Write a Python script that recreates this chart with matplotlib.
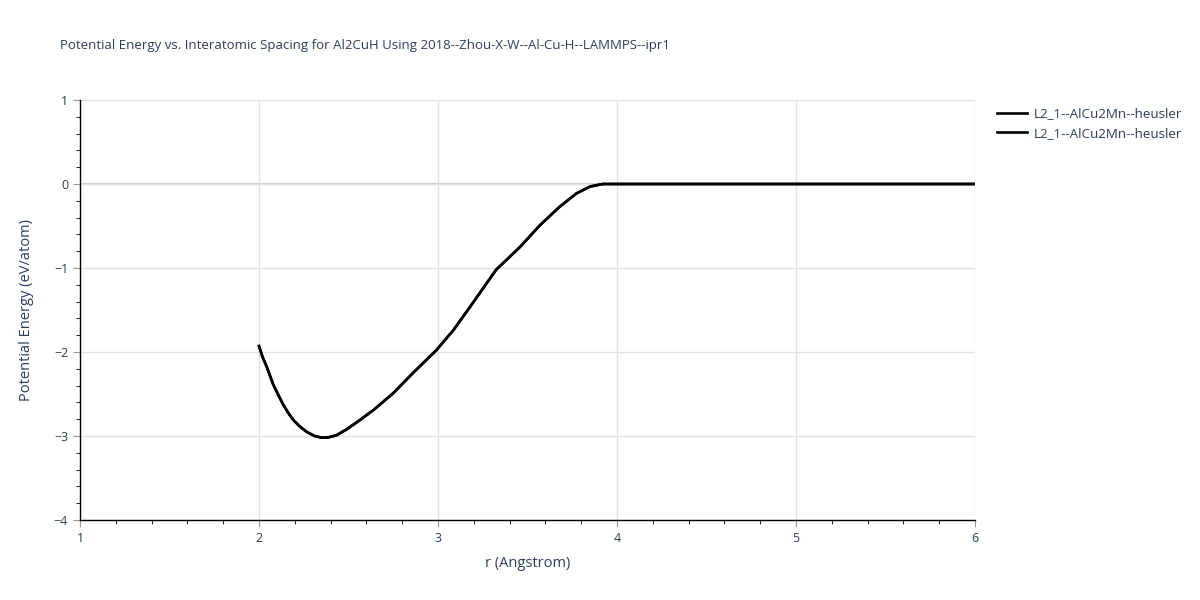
import matplotlib
matplotlib.use("Agg")
import matplotlib.pyplot as plt
from matplotlib.ticker import MultipleLocator, FuncFormatter

plt.rcParams['font.family'] = ['Open Sans', 'DejaVu Sans']

TEXT = '#2a3f5f'

# values
r_vals = [2.0, 2.02, 2.043, 2.08, 2.11, 2.136, 2.165, 2.192, 2.23, 2.266,
          2.31, 2.35, 2.39, 2.434, 2.49, 2.564, 2.64, 2.75, 2.86, 2.99,
          3.086, 3.18, 3.325, 3.458, 3.57, 3.68, 3.775, 3.85, 3.92, 4.0,
          4.5, 5.0, 5.5, 6.0]
e_vals = [-1.93, -2.06, -2.175, -2.39, -2.52, -2.63, -2.73, -2.81, -2.89, -2.95,
          -3.00, -3.02, -3.015, -2.99, -2.92, -2.81, -2.69, -2.49, -2.25, -1.98,
          -1.74, -1.46, -1.02, -0.75, -0.49, -0.27, -0.11, -0.03, 0.0, 0.0,
          0.0, 0.0, 0.0, 0.0]
names = ['L2_1--AlCu2Mn--heusler', 'L2_1--AlCu2Mn--heusler']

fig = plt.figure(figsize=(12, 6), dpi=100)
ax = fig.add_axes([80 / 1200, 80 / 600, 895 / 1200, 420 / 600])

for name in names:
    ax.plot(r_vals, e_vals, color='black', lw=1.9, label=name, zorder=3)

ax.set_xlim(1, 6)
ax.set_ylim(-4, 1)
ax.xaxis.set_major_locator(MultipleLocator(1))
ax.yaxis.set_major_locator(MultipleLocator(1))
ax.xaxis.set_minor_locator(MultipleLocator(0.2))
ax.yaxis.set_minor_locator(MultipleLocator(0.2))
ax.grid(True, which='major', color='#e1e1e1', lw=1, zorder=0)
ax.axhline(0, color='#cccccc', lw=1.5, zorder=1)

for side in ['top', 'right']:
    ax.spines[side].set_visible(False)
for side in ['left', 'bottom']:
    ax.spines[side].set_color('black')
    ax.spines[side].set_linewidth(1)

ax.tick_params(which='major', direction='out', length=5, color='#999999',
               labelcolor=TEXT, labelsize=9)
ax.tick_params(which='minor', direction='out', length=3, color='black')
ax.yaxis.set_major_formatter(FuncFormatter(lambda v, p: f'{int(v)}'.replace('-', '\u2212')))

ax.set_xlabel('r (Angstrom)', color=TEXT, fontsize=10.5, labelpad=8)
ax.set_ylabel('Potential Energy (eV/atom)', color=TEXT, fontsize=10.5, labelpad=14)

fig.text(60 / 1200, 1 - 45 / 600,
         'Potential Energy vs. Interatomic Spacing for Al2CuH Using 2018--Zhou-X-W--Al-Cu-H--LAMMPS--ipr1',
         color=TEXT, fontsize=9.5, va='center', ha='left')

fig.legend(loc='upper left', bbox_to_anchor=(992 / 1200, 1 - 102 / 600), frameon=False,
           fontsize=9.6, labelcolor=TEXT, handlelength=2.2, handletextpad=0.5,
           labelspacing=0.5, borderaxespad=0)

fig.savefig('out.png', dpi=100)
